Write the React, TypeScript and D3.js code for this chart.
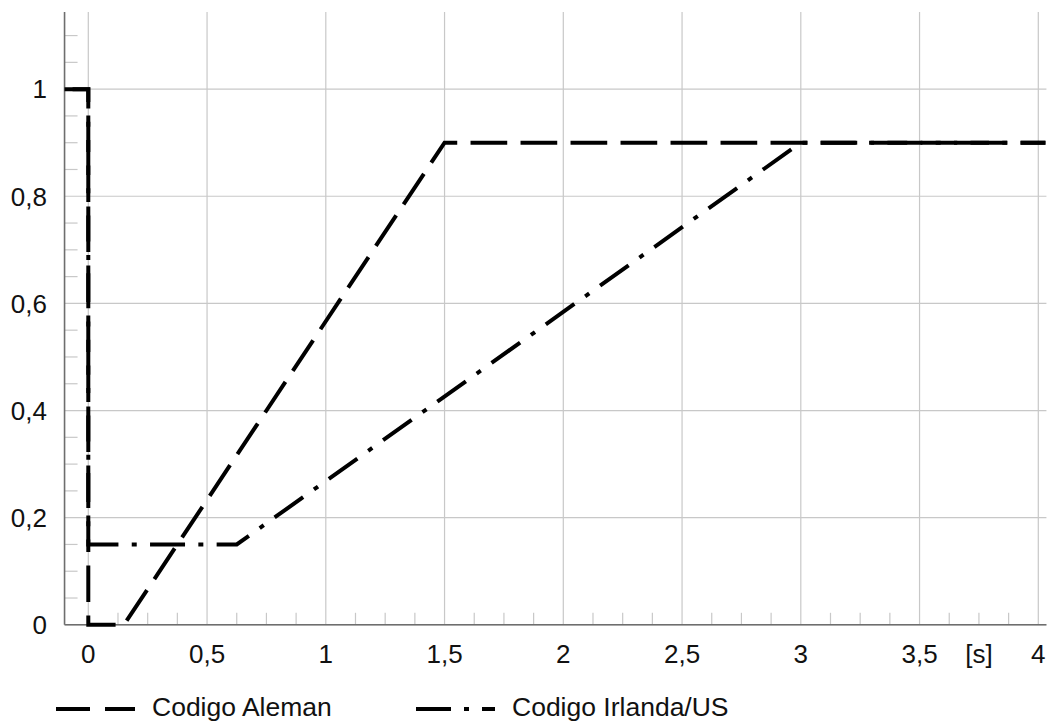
import React from "react";
import * as d3 from "d3";

const W = 1049;
const H = 725;

const xMajorTicks = [0, 0.5, 1, 1.5, 2, 2.5, 3, 3.5, 4];
const xTickLabels = ["0", "0,5", "1", "1,5", "2", "2,5", "3", "3,5", "4"];
const yMajorTicks = [0, 0.2, 0.4, 0.6, 0.8, 1];
const yTickLabels = ["0", "0,2", "0,4", "0,6", "0,8", "1"];
const xUnitLabel = "[s]";

const alemanX = [-0.1, 0, 0, 0.15, 1.5, 4.03];
const alemanY = [1, 1, 0, 0, 0.9, 0.9];
const irlandaX = [-0.1, 0, 0, 0.625, 3, 4.03];
const irlandaY = [1, 1, 0.15, 0.15, 0.9, 0.9];

const seriesNames = ["Codigo Aleman", "Codigo Irlanda/US"];

export default function App() {
  const x0 = 88.3;
  const k = 237.5;
  const x = d3.scaleLinear().domain([-0.1, 4.03]).range([x0 - 0.1 * k, x0 + 4.03 * k]);
  const y = d3.scaleLinear().domain([0, 1.144]).range([624.8, 12]);

  const line = d3
    .line<[number, number]>()
    .x((d) => x(d[0]))
    .y((d) => y(d[1]));

  const aleman: [number, number][] = alemanX.map((v, i) => [v, alemanY[i]]);
  const irlanda: [number, number][] = irlandaX.map((v, i) => [v, irlandaY[i]]);

  const xMinor = d3.range(1, 33).map((i) => i * 0.125).filter((v) => Math.abs(v * 2 - Math.round(v * 2)) > 1e-6);
  const yMinor = d3.range(1, 23).map((i) => i * 0.05).filter((v) => Math.abs(v * 5 - Math.round(v * 5)) > 1e-6 || v > 1.01);

  const [xl, xr] = x.range();
  const [yb, yt] = y.range();
  const font = "'Liberation Sans', Arial, sans-serif";
  const fs = 26;
  const lfs = 26.5;
  const grid = "#c8c8c8";
  const axis = "#6e6e6e";
  const legY = 709;
  const sw = 4;

  return (
    <svg width={W} height={H} style={{ position: "absolute", left: 0, top: 0 }}>
      <rect width={W} height={H} fill="#fff" />
      {xMajorTicks.map((t) => (
        <line key={"gx" + t} x1={x(t)} x2={x(t)} y1={yb} y2={yt} stroke={grid} strokeWidth={1.2} />
      ))}
      {yMajorTicks.map((t) => (
        <line key={"gy" + t} x1={xl} x2={xr + 1} y1={y(t)} y2={y(t)} stroke={grid} strokeWidth={1.2} />
      ))}
      {xMinor.map((t) => (
        <line key={"mx" + t} x1={x(t)} x2={x(t)} y1={yb} y2={yb - 12} stroke={grid} strokeWidth={1.2} />
      ))}
      {yMinor.map((t) => (
        <line key={"my" + t} x1={xl} x2={xl + 13} y1={y(t)} y2={y(t)} stroke={grid} strokeWidth={1.2} />
      ))}
      <line x1={xl} x2={xl} y1={yt} y2={yb} stroke={axis} strokeWidth={1.6} />
      <line x1={xl} x2={xr + 1} y1={yb} y2={yb} stroke={axis} strokeWidth={1.6} />
      <path d={line(irlanda) || ""} fill="none" stroke="#000" strokeWidth={sw} strokeDasharray="35,13.3,5,13.3" strokeDashoffset={-8} strokeLinejoin="miter" />
      <path d={line(aleman) || ""} fill="none" stroke="#000" strokeWidth={sw} strokeDasharray="36.7,13.3" strokeDashoffset={0} strokeLinejoin="miter" />
      {xMajorTicks.map((t, i) => (
        <text key={"tx" + t} x={x(t)} y={663} textAnchor="middle" fontFamily={font} fontSize={fs} fill="#111">
          {xTickLabels[i]}
        </text>
      ))}
      <text x={x(3.75)} y={663} textAnchor="middle" fontFamily={font} fontSize={fs} fill="#111">
        {xUnitLabel}
      </text>
      {yMajorTicks.map((t, i) => (
        <text key={"ty" + t} x={47} y={y(t) + fs * 0.36} textAnchor="end" fontFamily={font} fontSize={fs} fill="#111">
          {yTickLabels[i]}
        </text>
      ))}
      <line x1={56} x2={135} y1={legY} y2={legY} stroke="#000" strokeWidth={sw} strokeDasharray="34,15" />
      <text x={152} y={legY + 7} fontFamily={font} fontSize={lfs} fill="#111">
        {seriesNames[0]}
      </text>
      <line x1={416} x2={495} y1={legY} y2={legY} stroke="#000" strokeWidth={sw} strokeDasharray="35,13,5,13" />
      <text x={512} y={legY + 7} fontFamily={font} fontSize={lfs} fill="#111">
        {seriesNames[1]}
      </text>
    </svg>
  );
}
